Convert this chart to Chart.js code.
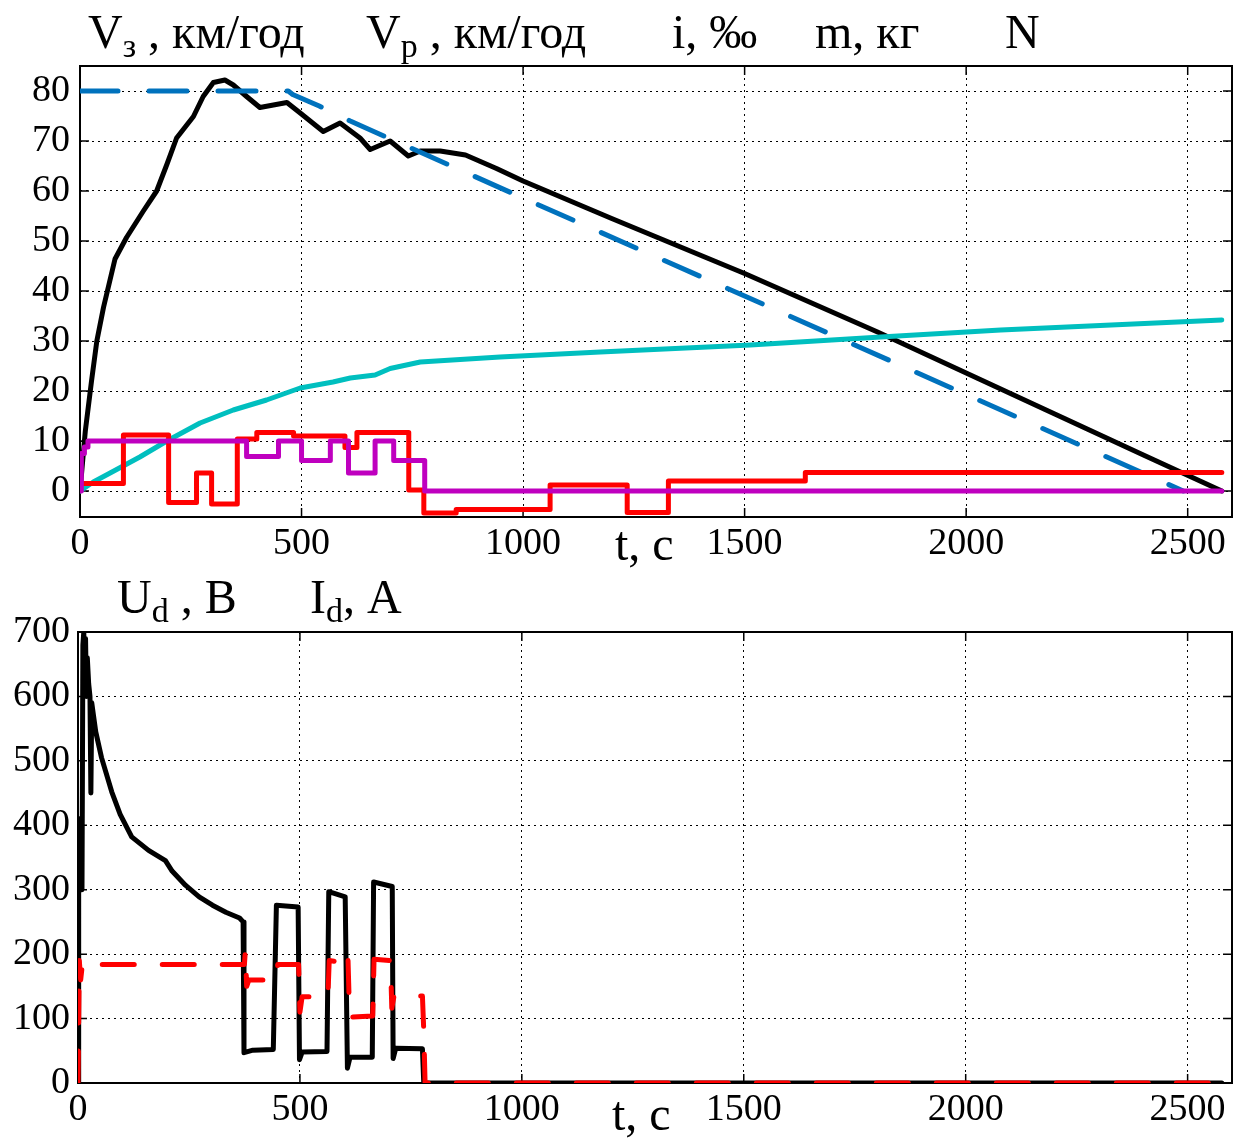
<!DOCTYPE html>
<html lang="uk">
<head>
<meta charset="UTF-8">
<title>Швидкість, ухил, маса, напруга і струм</title>
<script src="https://cdn.jsdelivr.net/npm/chart.js"></script>
<style>
  body { margin: 0; background: #fff; }
  .wrap { position: relative; width: 1248px; height: 1139px; font-family: "Liberation Serif", serif; }
  #topChart { position: absolute; left: 0; top: 0; }
  #botChart { position: absolute; left: 0; top: 580px; }
  .lbl { position: absolute; font-size: 48px; line-height: 1; color: #000; white-space: nowrap; }
  .lbl sub { font-size: 34px; line-height: 0; vertical-align: -9px; }
</style>
</head>
<body>
<div class="wrap">
  <canvas id="topChart" width="1248" height="575"></canvas>
  <canvas id="botChart" width="1248" height="559"></canvas>

  <!-- підписи верхнього графіка -->
  <div class="lbl" style="left:88px;top:8px">V<sub>з</sub> , км/год</div>
  <div class="lbl" style="left:366px;top:8px">V<sub>р</sub> , км/год</div>
  <div class="lbl" style="left:672px;top:8px">i, ‰</div>
  <div class="lbl" style="left:815px;top:8px">m, кг</div>
  <div class="lbl" style="left:1005px;top:8px">N</div>
  <div class="lbl" style="left:615px;top:520px">t, c</div>

  <!-- підписи нижнього графіка -->
  <div class="lbl" style="left:117px;top:573px">U<sub>d</sub> , В</div>
  <div class="lbl" style="left:310px;top:573px">I<sub>d</sub>, А</div>
  <div class="lbl" style="left:612px;top:1090px">t, c</div>
</div>

<script>
  // осі
  var xTicks = [0, 500, 1000, 1500, 2000, 2500];
  var yTicksTop = [0, 10, 20, 30, 40, 50, 60, 70, 80];
  var yTicksBot = [0, 100, 200, 300, 400, 500, 600, 700];

  // V_з, задана швидкість (синя штрихова)
  var tVz = [0, 470, 480, 540, 610, 1000, 1500, 2000, 2490];
  var vVz = [80, 80, 79.3, 77, 74, 58.6, 39, 19.3, 0];

  // V_р, реальна швидкість (чорна)
  var tVp = [0, 5, 12, 26, 38, 53, 79, 105, 143, 173, 196, 218, 256, 278, 301, 327, 346, 376, 406, 467, 497,
             549, 587, 632, 655, 700, 741, 768, 813, 870, 940, 1000, 1200, 1500, 1800, 2000, 2200, 2400, 2577];
  var vVp = [0, 5, 12, 22, 30, 36.7, 46.4, 50.7, 56, 60, 65.3, 70.6, 74.9, 78.9, 81.7, 82.2, 81.2, 78.9, 76.7, 77.7, 75.6,
             71.9, 73.6, 70.6, 68.3, 70, 67, 68, 68, 67.2, 64.5, 62, 54.5, 43.5, 31.8, 23.6, 15.4, 7.2, 0];

  // i, ухил (червона, сходинки)
  var tI = [0, 98, 200, 263, 297, 355, 399, 482, 598, 625, 742, 776, 849, 1061, 1235, 1328, 1637, 2577];
  var vI = [1.5, 11.2, -2.3, 3.6, -2.6, 10.4, 11.7, 11.0, 8.7, 11.7, 0.2, -4.4, -3.7, 1.2, -4.3, 2.0, 3.7, 3.7];

  // m, маса (бірюзова)
  var tM = [0, 30, 68, 135, 196, 271, 346, 421, 497, 571, 610, 666, 700, 768, 948, 1174, 1513, 1807, 2078, 2577];
  var vM = [0, 1.8, 3.6, 6.8, 10, 13.6, 16.2, 18.2, 20.6, 21.8, 22.6, 23.2, 24.5, 25.8, 26.8, 27.8, 29.2, 30.8, 32.2, 34.2];

  // N, позиція контролера (фіолетова, сходинки)
  var tN = [0, 3, 10, 18, 376, 448, 500, 565, 606, 666, 708, 778, 2577];
  var vN = [0, 7.5, 8.8, 10, 6.9, 10, 6.1, 10, 3.6, 10, 6.1, 0, 0];

  // U_d, напруга (чорна)
  var tU = [0, 1, 2, 3, 4, 5, 6, 8, 9, 11, 13, 15, 17, 19, 21, 24, 27, 29, 31, 35, 40, 53, 76, 95, 121, 159, 197, 212,
            242, 273, 303, 333, 364, 372, 374, 394, 440, 447, 496, 499, 505, 561, 565, 602, 607, 613, 663, 666,
            708, 710, 716, 776, 779, 2577];
  var vU = [0, 400, 300, 410, 300, 400, 300, 410, 300, 680, 700, 640, 690, 600, 660, 620, 600, 450, 590, 570, 545, 505,
            452, 417, 382, 361, 345, 329, 307, 289, 276, 265, 256, 250, 47, 51, 52, 276, 273, 36, 48, 49, 297, 289,
            23, 40, 40, 312, 305, 38, 54, 53, 0, 0];

  // I_d, струм (червона штрихова)
  var tId = [0, 3, 6, 10, 18, 25, 375, 377, 380, 385, 447, 450, 497, 500, 505, 563, 566, 605, 608, 612, 664, 667,
             704, 707, 712, 776, 779, 782, 2577];
  var vId = [0, 190, 160, 185, 180, 184, 184, 205, 150, 160, 160, 184, 184, 110, 134, 134, 190, 186, 200, 102, 104, 192,
             190, 116, 135, 135, 82, 0, 0];

  function pts(xs, ys) {
    return xs.map(function (x, k) { return { x: x, y: ys[k] }; });
  }

  // рамка і внутрішні риски, як у Matlab
  var frame = {
    id: 'frame',
    beforeDatasetsDraw: function (chart) {
      var ctx = chart.ctx, a = chart.chartArea, sx = chart.scales.x, sy = chart.scales.y;
      ctx.save();
      ctx.strokeStyle = '#000';
      ctx.lineWidth = 2;
      ctx.strokeRect(a.left, a.top, a.right - a.left, a.bottom - a.top);
      ctx.lineWidth = 1.5;
      ctx.beginPath();
      sx.ticks.forEach(function (t) {
        var x = sx.getPixelForValue(t.value);
        ctx.moveTo(x, a.bottom); ctx.lineTo(x, a.bottom - 9);
        ctx.moveTo(x, a.top); ctx.lineTo(x, a.top + 9);
      });
      sy.ticks.forEach(function (t) {
        var y = sy.getPixelForValue(t.value);
        ctx.moveTo(a.left, y); ctx.lineTo(a.left + 9, y);
        ctx.moveTo(a.right, y); ctx.lineTo(a.right - 9, y);
      });
      ctx.stroke();
      ctx.restore();
    }
  };

  var tickFont = { family: '"Liberation Serif", "Times New Roman", serif', size: 38 };
  var plain = function (v) { return String(v); };

  function xAxis(h) {
    return {
      type: 'linear', min: 0, max: 2600,
      afterBuildTicks: function (s) { s.ticks = xTicks.map(function (v) { return { value: v }; }); },
      afterFit: function (s) { s.height = h; },
      grid: { color: '#000', lineWidth: 1, drawTicks: false },
      border: { display: false, dash: [2, 4] },
      ticks: { font: tickFont, color: '#000', padding: 4, maxRotation: 0, autoSkip: false, callback: plain }
    };
  }

  function yAxis(w, min, max, list, pad) {
    return {
      type: 'linear', min: min, max: max,
      afterBuildTicks: function (s) { s.ticks = list.map(function (v) { return { value: v }; }); },
      afterFit: function (s) { s.width = w; },
      grid: { color: '#000', lineWidth: 1, drawTicks: false },
      border: { display: false, dash: [2, 4] },
      ticks: { font: tickFont, color: '#000', padding: pad, autoSkip: false, callback: plain }
    };
  }

  function line(label, data, color, extra) {
    var ds = {
      label: label, data: data, borderColor: color, borderWidth: 5,
      pointRadius: 0, tension: 0, borderCapStyle: 'round', borderJoinStyle: 'round', fill: false
    };
    for (var k in extra) ds[k] = extra[k];
    return ds;
  }

  var common = {
    responsive: false,
    animation: false,
    plugins: { legend: { display: false }, tooltip: { enabled: false } }
  };

  new Chart(document.getElementById('topChart').getContext('2d'), {
    type: 'line',
    data: {
      datasets: [
        line('N', pts(tN, vN), '#BF00BF', { stepped: true }),
        line('i, ‰', pts(tI, vI), '#FF0000', { stepped: true }),
        line('m, кг', pts(tM, vM), '#00BFBF', {}),
        line('Vз, км/год', pts(tVz, vVz), '#0072BD', { borderDash: [38, 31] }),
        line('Vр, км/год', pts(tVp, vVp), '#000000', {})
      ]
    },
    options: Object.assign({}, common, {
      layout: { padding: { top: 66, right: 16, left: 0, bottom: 0 } },
      scales: { x: xAxis(58), y: yAxis(80, -5.2, 85, yTicksTop, 10) }
    }),
    plugins: [frame]
  });

  new Chart(document.getElementById('botChart').getContext('2d'), {
    type: 'line',
    data: {
      datasets: [
        line('Id, А', pts(tId, vId), '#FF0000', { borderDash: [32, 28] }),
        line('Ud, В', pts(tU, vU), '#000000', {})
      ]
    },
    options: Object.assign({}, common, {
      layout: { padding: { top: 52, right: 16, left: 0, bottom: 0 } },
      scales: { x: xAxis(56), y: yAxis(78, 0, 700, yTicksBot, 8) }
    }),
    plugins: [frame]
  });
</script>
</body>
</html>
